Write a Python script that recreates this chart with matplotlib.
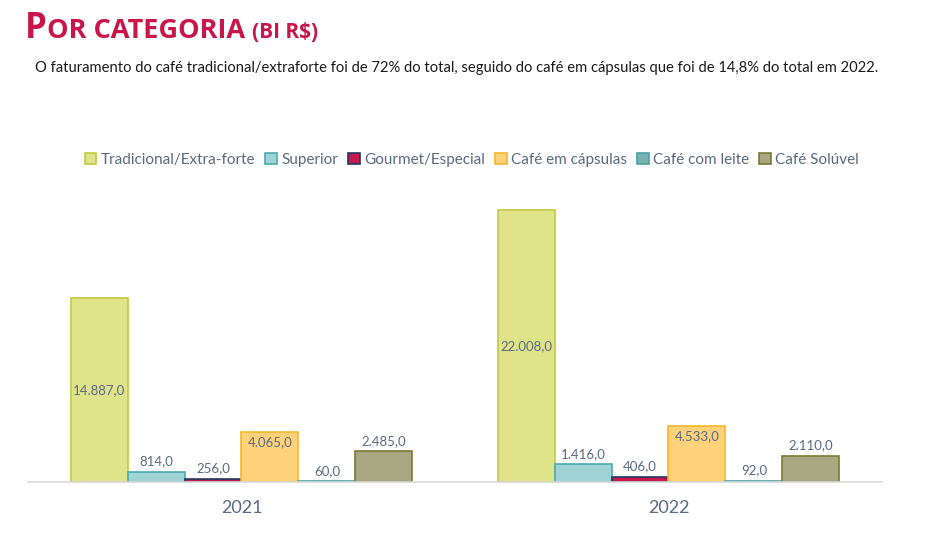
import matplotlib.pyplot as plt
import numpy as np

years = ['2021', '2022']
categorias = ['Tradicional/Extra-forte', 'Superior', 'Gourmet/Especial',
              'Café em cápsulas', 'Café com leite', 'Café Solúvel']
valores = {
    'Tradicional/Extra-forte': [14887.0, 22008.0],
    'Superior': [814.0, 1416.0],
    'Gourmet/Especial': [256.0, 406.0],
    'Café em cápsulas': [4065.0, 4533.0],
    'Café com leite': [60.0, 92.0],
    'Café Solúvel': [2485.0, 2110.0],
}
fills = ['#dfe48a', '#9fd3d5', '#c8184a', '#fdd27a', '#78b3b3', '#a8a883']
edges = ['#c3ca3c', '#4aaab3', '#1f3864', '#f5b62e', '#4aa3a8', '#7a7a35']
label_pos = ['center', 'above', 'above', 'inside', 'above', 'above']

txt_color = '#5a6a82'
plt.rcParams['font.family'] = ['Lato', 'DejaVu Sans']

W, H = 929, 543
fig = plt.figure(figsize=(W / 100, H / 100), dpi=100)
ax = fig.add_axes([28 / W, 1 - 482 / H, (882 - 28) / W, (482 - 185) / H])

x = np.arange(len(years))
bw = 0.8 / len(categorias)
for i, cat in enumerate(categorias):
    xs = x - 0.4 + bw * (i + 0.5)
    vals = valores[cat]
    ax.bar(xs, vals, width=bw, color=fills[i], edgecolor=edges[i], linewidth=1.2,
           label=cat, zorder=3)
    for xi, v in zip(xs, vals):
        s = f'{v:,.1f}'.replace(',', 'X').replace('.', ',').replace('X', '.')
        if label_pos[i] == 'center':
            ax.text(xi, v / 2, s, ha='center', va='center', fontsize=9.5, color=txt_color)
        elif label_pos[i] == 'inside':
            ax.text(xi, v - 350, s, ha='center', va='top', fontsize=9.5, color=txt_color)
        else:
            ax.text(xi, v + 350, s, ha='center', va='bottom', fontsize=9.5, color=txt_color)

ax.set_xlim(-0.5, 1.5)
ax.set_ylim(0, 24000)
ax.set_yticks([])
ax.set_xticks(x)
ax.set_xticklabels(years, fontsize=13, color=txt_color)
ax.tick_params(axis='x', length=0, pad=13)
for sp in ['top', 'left', 'right']:
    ax.spines[sp].set_visible(False)
ax.spines['bottom'].set_color('#d9d9d9')
ax.spines['bottom'].set_linewidth(1.2)
ax.spines['bottom'].set_zorder(4)

leg = fig.legend(loc='center', bbox_to_anchor=(472 / W, 1 - 160 / H), ncol=6,
                 frameon=False, fontsize=11, handlelength=0.75, handleheight=0.75,
                 handletextpad=0.3, columnspacing=0.65, labelcolor=txt_color)

# titulo em "versalete"
red = '#c8164a'
fig.canvas.draw()
r = fig.canvas.get_renderer()
xpos = 25
for s, size in [('P', 25), ('OR CATEGORIA ', 19.5), ('(BI R$)', 15)]:
    t = fig.text(xpos / W, 1 - 38 / H, s, fontsize=size, fontweight='bold',
                 family=['Open Sans', 'DejaVu Sans'],
                 color=red, va='baseline', ha='left')
    bb = t.get_window_extent(renderer=r)
    xpos += bb.width

fig.text(35 / W, 1 - 68 / H,
         'O faturamento do café tradicional/extraforte foi de 72% do total, seguido do café em '
         'cápsulas que foi de 14,8% do total em 2022.',
         fontsize=10.65, color='#1a1a1a', va='center', ha='left')

fig.savefig('out.png', dpi=100)
